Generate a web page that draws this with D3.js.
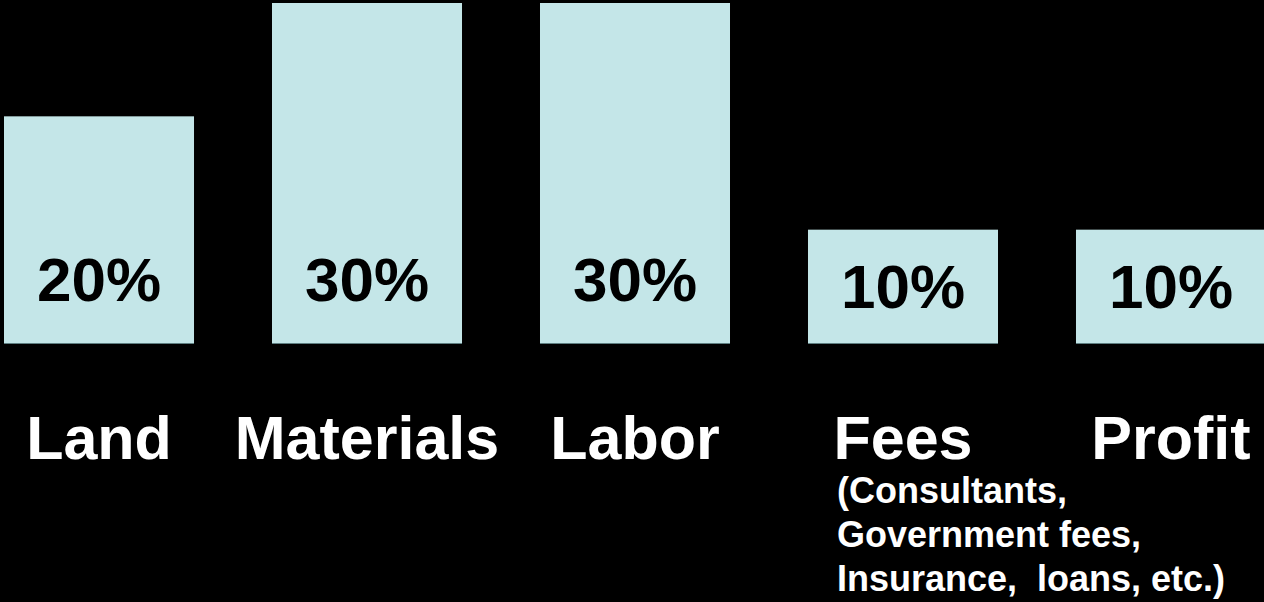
<!DOCTYPE html>
<html>
<head>
<meta charset="utf-8">
<script src="https://cdn.jsdelivr.net/npm/d3@7"></script>
<style>
  body { margin: 0; background: #000; }
  svg { display: block; }
  text { font-family: "Liberation Sans", Arial, sans-serif; font-weight: bold; }
  .note { white-space: pre; }
</style>
</head>
<body>
<div class="chart"></div>
<script>
// cost breakdown of a building project
var categories = ["Land", "Materials", "Labor", "Fees", "Profit"];
var shares = [20, 30, 30, 10, 10];
var notes = [[], [], [], ["(Consultants,", "Government fees,", "Insurance,  loans, etc.)"], []];

var svgWidth = 1264;
var svgHeight = 602;

var svg = d3.select(".chart")
  .append("svg")
  .attr("width", svgWidth)
  .attr("height", svgHeight);

svg.append("rect")
  .attr("width", svgWidth)
  .attr("height", svgHeight)
  .attr("fill", "#000");

var data = categories.map(function(c, i) {
  return { name: c, share: shares[i], note: notes[i] };
});

// scales
var xScale = d3.scaleBand()
  .domain(categories)
  .range([4, 1266])
  .paddingInner(0.291)
  .paddingOuter(0);

var yScale = d3.scaleLinear()
  .domain([0, 30])
  .range([343, 3]);

var barGroup = svg.append("g");

barGroup.selectAll("rect")
  .data(data)
  .enter()
  .append("rect")
  .attr("x", d => xScale(d.name))
  .attr("y", d => yScale(d.share))
  .attr("width", xScale.bandwidth())
  .attr("height", d => yScale(0) - yScale(d.share))
  .attr("fill", "#c4e6e8");

// thin shadow line along the bottom of each bar
barGroup.selectAll("line")
  .data(data)
  .enter()
  .append("line")
  .attr("x1", d => xScale(d.name))
  .attr("x2", d => xScale(d.name) + xScale.bandwidth())
  .attr("y1", yScale(0) + 0.5)
  .attr("y2", yScale(0) + 0.5)
  .attr("stroke", "#5f7f82")
  .attr("stroke-width", 1);

// percentage labels inside the bars
barGroup.selectAll("text.pct")
  .data(data)
  .enter()
  .append("text")
  .attr("class", "pct")
  .attr("x", d => xScale(d.name) + xScale.bandwidth() / 2)
  .attr("y", function(d) {
    var top = yScale(d.share), bottom = yScale(0);
    return Math.max((top + bottom) / 2 + 22, bottom - 42);
  })
  .attr("text-anchor", "middle")
  .attr("font-size", "62px")
  .attr("fill", "#000")
  .text(d => d.share + "%");

// category labels
var labels = svg.append("g");

labels.selectAll("text.cat")
  .data(data)
  .enter()
  .append("text")
  .attr("class", "cat")
  .attr("x", d => xScale(d.name) + xScale.bandwidth() / 2)
  .attr("y", 459)
  .attr("text-anchor", "middle")
  .attr("font-size", "61px")
  .attr("fill", "#fff")
  .text(d => d.name);

// small notes under a label
data.forEach(function(d) {
  d.note.forEach(function(line, j) {
    labels.append("text")
      .attr("class", "note")
      .attr("x", xScale(d.name) + xScale.bandwidth() / 2 - 66)
      .attr("y", 503 + j * 44)
      .attr("font-size", "36px")
      .attr("fill", "#fff")
      .text(line);
  });
});
</script>
</body>
</html>
